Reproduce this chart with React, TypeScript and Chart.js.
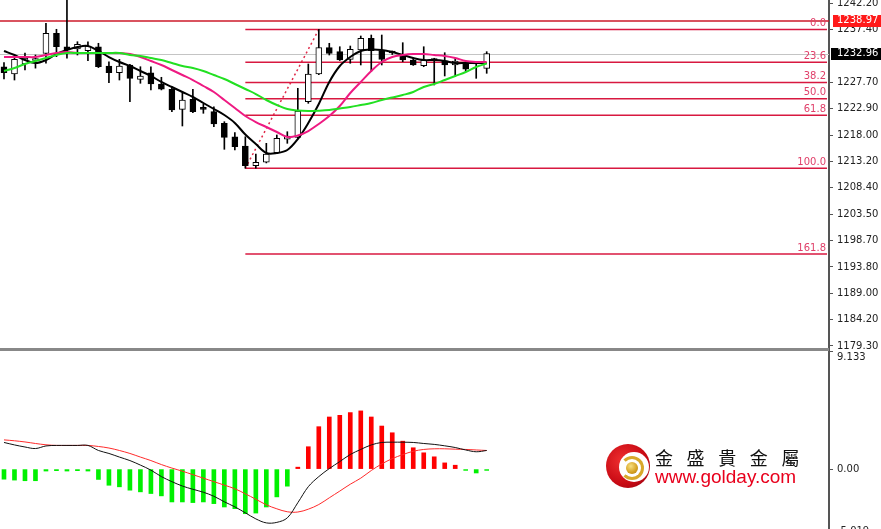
import React, { useEffect, useRef } from 'react';
import { Chart, registerables } from 'chart.js';

Chart.register(...registerables);

// ---------- price pane data (one candle per bar) ----------
const candleOpen = [1230.56, 1229.22, 1231.06, 1231.70, 1233.02, 1236.69, 1234.23, 1233.81, 1233.50, 1234.23,
  1230.69, 1229.46, 1230.88, 1228.25, 1229.46, 1227.39, 1226.42, 1222.74, 1224.58, 1222.93,
  1222.31, 1220.17, 1217.71, 1216.01, 1212.39, 1213.02, 1214.78, 1217.24, 1217.60, 1224.14,
  1229.22, 1234.05, 1233.32, 1231.92, 1233.63, 1235.78, 1233.50, 1233.17, 1232.71, 1231.79,
  1230.75, 1231.79, 1231.61, 1230.88, 1231.30, 1231.06, 1230.27];
const candleHigh = [1231.30, 1232.29, 1233.08, 1232.71, 1238.53, 1237.43, 1244.50, 1235.15, 1235.15, 1234.86,
  1231.48, 1231.92, 1231.00, 1230.56, 1230.56, 1228.62, 1226.89, 1225.79, 1226.42, 1223.72,
  1223.22, 1220.47, 1218.45, 1217.71, 1214.54, 1216.50, 1218.03, 1218.63, 1226.60, 1231.06,
  1237.40, 1234.86, 1234.23, 1234.36, 1236.20, 1236.38, 1236.38, 1233.45, 1234.97, 1232.11,
  1234.23, 1232.11, 1233.13, 1232.11, 1231.48, 1231.48, 1233.32];
const candleLow = [1228.31, 1228.12, 1229.96, 1230.30, 1231.19, 1232.40, 1232.11, 1232.71, 1231.66, 1230.40,
  1227.63, 1228.12, 1224.14, 1227.52, 1226.29, 1226.30, 1222.31, 1219.68, 1222.12, 1222.01,
  1219.55, 1215.40, 1215.27, 1211.92, 1211.95, 1212.90, 1214.67, 1216.50, 1217.42, 1223.84,
  1229.10, 1232.71, 1231.70, 1231.19, 1230.88, 1229.65, 1230.88, 1232.80, 1231.48, 1230.80,
  1230.56, 1227.21, 1228.86, 1228.73, 1229.65, 1228.43, 1229.35];
const candleClose = [1229.46, 1231.92, 1232.16, 1232.00, 1236.69, 1234.23, 1233.63, 1234.67, 1234.36, 1230.56,
  1229.46, 1230.69, 1228.43, 1228.86, 1227.39, 1226.42, 1222.62, 1224.45, 1222.31, 1222.74,
  1220.05, 1217.60, 1215.88, 1212.39, 1213.02, 1214.54, 1217.42, 1217.84, 1222.43, 1229.22,
  1234.05, 1233.02, 1231.79, 1233.76, 1235.78, 1233.50, 1231.92, 1233.08, 1231.79, 1230.88,
  1231.79, 1231.70, 1230.88, 1231.61, 1230.09, 1231.24, 1232.96];

const maFast = [1233.45, 1232.71, 1231.79, 1231.24, 1231.79, 1232.89, 1233.63, 1234.18, 1234.36, 1233.45,
  1232.34, 1231.43, 1230.69, 1229.77, 1228.86, 1227.76, 1226.84, 1225.92, 1225.00, 1223.90,
  1222.80, 1221.69, 1220.23, 1218.11, 1216.37, 1214.72, 1214.72, 1215.27, 1217.29, 1220.23,
  1223.72, 1227.76, 1230.69, 1232.34, 1233.45, 1233.72, 1233.63, 1233.26, 1232.71, 1232.16,
  1231.79, 1231.79, 1231.61, 1231.24, 1231.24, 1231.24, 1231.24];
const maMid = [1232.34, 1232.34, 1232.34, 1232.34, 1232.71, 1233.08, 1233.26, 1233.08, 1233.08, 1233.08,
  1233.08, 1233.08, 1232.89, 1232.34, 1231.61, 1230.88, 1229.96, 1229.04, 1228.12, 1227.02,
  1225.92, 1224.45, 1222.98, 1221.51, 1220.41, 1219.50, 1218.58, 1217.66, 1217.93, 1218.76,
  1220.05, 1221.51, 1223.35, 1225.73, 1227.76, 1229.77, 1231.43, 1232.34, 1232.71, 1232.89,
  1232.89, 1232.71, 1232.53, 1232.16, 1231.61, 1231.43, 1231.43];
const maSlow = [1229.77, 1230.32, 1231.06, 1231.61, 1232.16, 1232.71, 1233.08, 1233.08, 1233.08, 1233.08,
  1233.08, 1233.08, 1232.71, 1232.53, 1232.16, 1231.79, 1231.24, 1230.69, 1230.32, 1229.77,
  1229.04, 1228.31, 1227.39, 1226.47, 1225.55, 1224.45, 1223.53, 1222.80, 1222.52, 1222.43,
  1222.49, 1222.62, 1222.89, 1223.17, 1223.53, 1223.90, 1224.45, 1224.91, 1225.37, 1225.92,
  1226.84, 1227.39, 1228.12, 1228.86, 1229.59, 1230.51, 1231.15];

const priceTicks = [1242.20, 1237.40, 1227.70, 1222.90, 1218.00, 1213.20, 1208.40, 1203.50, 1198.70, 1193.80, 1189.00, 1184.20, 1179.30];
const askPrice = 1238.97;
const bidPrice = 1232.96;

const fibLevels = [0.0, 23.6, 38.2, 50.0, 61.8, 100.0, 161.8];
const fibHigh = 1237.40;
const fibLow = 1211.92;
const fibLowIndex = 23;
const fibHighIndex = 30;

// ---------- MACD pane data ----------
const macdHist = [-0.78, -0.85, -0.9, -0.9, -0.15, -0.12, -0.15, -0.12, -0.15, -0.8,
  -1.25, -1.37, -1.63, -1.76, -1.89, -2.07, -2.54, -2.54, -2.59, -2.54,
  -2.67, -2.93, -3.06, -3.45, -3.40, -2.93, -2.15, -1.32, 0.15, 1.73,
  3.28, 4.03, 4.16, 4.37, 4.50, 4.03, 3.33, 2.81, 2.16, 1.65,
  1.26, 0.95, 0.48, 0.30, -0.1, -0.3, -0.1];
const macdMain = [2.06, 1.87, 1.71, 1.59, 1.79, 1.83, 1.83, 1.83, 1.83, 1.44,
  1.21, 0.93, 0.66, 0.31, -0.08, -0.58, -0.97, -1.31, -1.56, -1.79,
  -2.10, -2.53, -2.92, -3.38, -3.85, -4.16, -4.12, -3.77, -2.60, -1.36,
  -0.58, 0.04, 0.58, 1.13, 1.52, 1.87, 2.06, 2.08, 2.08, 2.06,
  1.98, 1.91, 1.80, 1.67, 1.48, 1.34, 1.44];
const macdSignal = [2.26, 2.19, 2.10, 1.98, 1.88, 1.83, 1.83, 1.83, 1.83, 1.75,
  1.63, 1.44, 1.21, 0.93, 0.66, 0.35, 0.08, -0.16, -0.43, -0.70,
  -0.97, -1.24, -1.52, -1.91, -2.33, -2.76, -3.07, -3.30, -3.32, -3.10,
  -2.74, -2.22, -1.70, -1.17, -0.70, -0.11, 0.40, 0.81, 1.12, 1.38,
  1.52, 1.57, 1.57, 1.54, 1.52, 1.48, 1.44];
const macdMax = 9.133;
const macdMin = -5.019;

// ---------- layout ----------
const W = 881;
const TOP_H = 351;
const BOT_H = 183;
const AXIS_W = 52;
const X_MIN = -0.38;
const X_MAX = 78.62;
const PRICE_MAX = 1242.806;
const PRICE_MIN = 1178.38;
const AXIS_FONT = { family: 'DejaVu Sans', size: 10 };

const fixAxis = (scale: any) => {
  scale.width = AXIS_W;
  scale.paddingTop = 0;
  scale.paddingBottom = 0;
};

const idx = candleClose.map((_, i) => i);
const pts = (arr: number[]) => idx.map((i) => ({ x: i, y: arr[i] }));

const topOverlay = {
  id: 'topOverlay',
  beforeDatasetsDraw(chart: any) {
    const { ctx, chartArea } = chart;
    const xs = chart.scales.x;
    const ys = chart.scales.y;
    ctx.save();
    // bid line
    let y = Math.round(ys.getPixelForValue(bidPrice)) + 0.5;
    ctx.strokeStyle = '#c4c4c4';
    ctx.lineWidth = 1;
    ctx.beginPath(); ctx.moveTo(chartArea.left, y); ctx.lineTo(chartArea.right, y); ctx.stroke();
    // ask line
    y = ys.getPixelForValue(askPrice);
    ctx.strokeStyle = '#cc1a2a';
    ctx.lineWidth = 1.5;
    ctx.beginPath(); ctx.moveTo(chartArea.left, y); ctx.lineTo(chartArea.right, y); ctx.stroke();
    // fib levels
    const x0 = xs.getPixelForValue(fibLowIndex);
    ctx.font = '10px "DejaVu Sans"';
    ctx.textAlign = 'right';
    ctx.textBaseline = 'bottom';
    fibLevels.forEach((lv) => {
      const p = fibHigh - (fibHigh - fibLow) * lv / 100;
      const yy = ys.getPixelForValue(p);
      ctx.strokeStyle = '#d81840';
      ctx.lineWidth = 1.5;
      ctx.beginPath(); ctx.moveTo(x0, yy); ctx.lineTo(chartArea.right - 2, yy); ctx.stroke();
      ctx.fillStyle = '#e0406a';
      ctx.fillText(lv.toFixed(1), chartArea.right - 3, yy - 1);
    });
    // dotted trend line low -> high
    ctx.setLineDash([2, 3]);
    ctx.strokeStyle = '#e02848';
    ctx.lineWidth = 1.5;
    ctx.beginPath();
    ctx.moveTo(xs.getPixelForValue(fibLowIndex), ys.getPixelForValue(fibLow));
    ctx.lineTo(xs.getPixelForValue(fibHighIndex), ys.getPixelForValue(fibHigh));
    ctx.stroke();
    ctx.restore();
  },
  afterDraw(chart: any) {
    const { ctx, chartArea } = chart;
    const ys = chart.scales.y;
    ctx.save();
    ctx.fillStyle = '#888888';
    ctx.fillRect(0, chartArea.bottom - 3, chartArea.right, 3);
    ctx.font = '10px "DejaVu Sans"';
    ctx.textAlign = 'left';
    ctx.textBaseline = 'middle';
    const box = (val: number, bg: string, x: number) => {
      const yy = ys.getPixelForValue(val);
      ctx.fillStyle = bg;
      ctx.fillRect(x, Math.round(yy) - 6, W - x, 12);
      ctx.fillStyle = '#ffffff';
      ctx.fillText(val.toFixed(2), 837, yy);
    };
    box(askPrice, '#ff1a1a', 833);
    box(bidPrice, '#000000', 831);
    ctx.restore();
  },
};

const botOverlay = {
  id: 'botOverlay',
  afterDraw(chart: any) {
    const { ctx, chartArea } = chart;
    const ys = chart.scales.y;
    ctx.save();
    ctx.font = '10px "DejaVu Sans"';
    ctx.fillStyle = '#222';
    ctx.textAlign = 'left';
    ctx.textBaseline = 'middle';
    ctx.fillText(macdMax.toFixed(3), 837, chartArea.top + 6);
    ctx.fillText('0.00', 837, ys.getPixelForValue(0));
    ctx.fillText(macdMin.toFixed(3), 837, chartArea.bottom - 3);
    ctx.restore();
  },
};

const xScale = { type: 'linear', min: X_MIN, max: X_MAX, display: false, offset: false, grid: { offset: false } };

export default function App() {
  const topRef = useRef<HTMLCanvasElement>(null);
  const botRef = useRef<HTMLCanvasElement>(null);

  useEffect(() => {
    const bodyData = idx.map((i) => ({
      x: i,
      y: [Math.min(candleOpen[i], candleClose[i]), Math.max(candleOpen[i], candleClose[i])],
    }));
    const wickData = idx.map((i) => ({ x: i, y: [candleLow[i], candleHigh[i]] }));
    const bodyColors = idx.map((i) => (candleClose[i] >= candleOpen[i] ? '#ffffff' : '#000000'));

    const lineDs = (label: string, arr: number[], color: string, width: number) => ({
      type: 'line', label, data: pts(arr), borderColor: color, borderWidth: width,
      pointRadius: 0, tension: 0.35, fill: false, order: 0, borderJoinStyle: 'round',
    });

    const top = new Chart(topRef.current as HTMLCanvasElement, {
      type: 'bar',
      data: {
        datasets: [
          lineDs('MA slow', maSlow, '#22e022', 2),
          lineDs('MA mid', maMid, '#ee1a82', 2),
          lineDs('MA fast', maFast, '#000000', 2),
          {
            type: 'bar', label: 'body', data: bodyData, backgroundColor: bodyColors,
            borderColor: '#000', borderWidth: 1, borderSkipped: false, barThickness: 6,
            grouped: false, minBarLength: 2, order: 1,
          },
          {
            type: 'bar', label: 'wick', data: wickData, backgroundColor: '#000',
            borderWidth: 0, barThickness: 1, grouped: false, order: 2,
          },
        ] as any,
      },
      options: {
        responsive: false, animation: false, devicePixelRatio: 1, events: [],
        layout: { padding: 0 },
        plugins: { legend: { display: false }, tooltip: { enabled: false } },
        scales: {
          x: xScale as any,
          y: {
            type: 'linear', position: 'right', min: PRICE_MIN, max: PRICE_MAX,
            afterBuildTicks: (s: any) => { s.ticks = priceTicks.map((v) => ({ value: v })); },
            afterFit: fixAxis,
            ticks: {
              callback: (v: any) => Number(v).toFixed(2), font: AXIS_FONT, color: '#222',
              padding: 4, autoSkip: false,
            },
            grid: { drawOnChartArea: false, drawTicks: true, tickLength: 4, color: '#555', lineWidth: 1 },
            border: { display: true, color: '#555', width: 2 },
          },
        },
      },
      plugins: [topOverlay],
    } as any);

    const bot = new Chart(botRef.current as HTMLCanvasElement, {
      type: 'bar',
      data: {
        datasets: [
          {
            type: 'line', label: 'MACD', data: pts(macdMain), borderColor: '#111', borderWidth: 1,
            pointRadius: 0, tension: 0.35, order: 0,
          },
          {
            type: 'line', label: 'Signal', data: pts(macdSignal), borderColor: '#ff2a2a', borderWidth: 1,
            pointRadius: 0, tension: 0.35, order: 0,
          },
          {
            type: 'bar', label: 'Histogram', data: pts(macdHist),
            backgroundColor: macdHist.map((v) => (v >= 0 ? '#ff0000' : '#00f000')),
            barThickness: 4, grouped: false, order: 1,
          },
        ] as any,
      },
      options: {
        responsive: false, animation: false, devicePixelRatio: 1, events: [],
        layout: { padding: 0 },
        plugins: { legend: { display: false }, tooltip: { enabled: false } },
        scales: {
          x: xScale as any,
          y: {
            type: 'linear', position: 'right', min: macdMin, max: macdMax,
            afterBuildTicks: (s: any) => { s.ticks = [macdMax, 0, macdMin].map((v) => ({ value: v })); },
            afterFit: fixAxis,
            ticks: { display: false },
            grid: { drawOnChartArea: false, drawTicks: true, tickLength: 4, color: '#555', lineWidth: 1 },
            border: { display: true, color: '#555', width: 2 },
          },
        },
      },
      plugins: [botOverlay],
    } as any);

    return () => { top.destroy(); bot.destroy(); };
  }, []);

  return (
    <div style={{ position: 'fixed', left: 0, top: 0, width: W, height: 529, overflow: 'hidden', background: '#fff' }}>
      <canvas ref={topRef} width={W} height={TOP_H} style={{ position: 'absolute', left: 0, top: 0 }} />
      <canvas ref={botRef} width={W} height={BOT_H} style={{ position: 'absolute', left: 0, top: TOP_H }} />
      {/* logo */}
      <div style={{ position: 'absolute', left: 606, top: 444, width: 44, height: 44, borderRadius: '50%',
        background: 'radial-gradient(circle at 38% 38%, #f03030 0%, #c80a14 60%, #8a0010 100%)' }} />
      <div style={{ position: 'absolute', left: 619, top: 452, width: 30, height: 30, borderRadius: '50%', background: '#fff' }} />
      <div style={{ position: 'absolute', left: 620, top: 456, width: 18, height: 18, borderRadius: '50%',
        border: '3px solid #d8a82a', borderLeftColor: 'transparent', boxSizing: 'content-box' }} />
      <div style={{ position: 'absolute', left: 626, top: 462, width: 12, height: 12, borderRadius: '50%',
        background: 'radial-gradient(circle at 40% 35%, #f8e080 0%, #d4a020 60%, #a87810 100%)' }} />
      <div style={{ position: 'absolute', left: 655, top: 446, fontFamily: '"Noto Sans CJK TC"', fontSize: 18,
        lineHeight: '22px', letterSpacing: '13.6px', color: '#111', whiteSpace: 'nowrap' }}>金盛貴金屬</div>
      <div style={{ position: 'absolute', left: 655, top: 467, fontFamily: '"Liberation Sans", Arial, sans-serif',
        fontSize: 19, lineHeight: '20px', color: '#e8001c', whiteSpace: 'nowrap' }}>www.golday.com</div>
    </div>
  );
}
